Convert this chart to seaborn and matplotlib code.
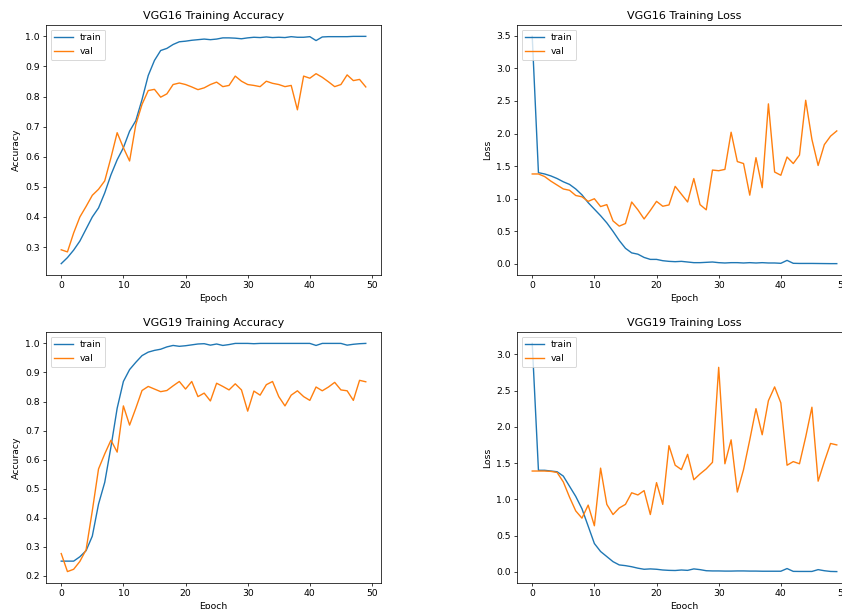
import matplotlib
matplotlib.use('Agg')
import matplotlib.pyplot as plt
import seaborn as sns

epochs = list(range(50))

vgg16_train_acc = [0.245, 0.265, 0.29, 0.32, 0.36, 0.40, 0.43, 0.48, 0.54, 0.59,
                   0.63, 0.685, 0.72, 0.79, 0.87, 0.92, 0.953, 0.96, 0.973, 0.982,
                   0.984, 0.987, 0.989, 0.991, 0.989, 0.991, 0.995, 0.995, 0.994, 0.992,
                   0.995, 0.997, 0.996, 0.998, 0.996, 0.997, 0.996, 0.999, 0.997, 0.997,
                   0.999, 0.986, 0.998, 0.999, 0.999, 0.999, 0.999, 1.0, 1.0, 1.0]
vgg16_val_acc = [0.291, 0.284, 0.347, 0.40, 0.435, 0.472, 0.492, 0.52, 0.597, 0.68,
                 0.63, 0.586, 0.707, 0.774, 0.82, 0.824, 0.798, 0.809, 0.84, 0.845,
                 0.84, 0.832, 0.823, 0.829, 0.84, 0.848, 0.833, 0.837, 0.868, 0.851,
                 0.84, 0.837, 0.833, 0.851, 0.844, 0.84, 0.833, 0.837, 0.756, 0.868,
                 0.861, 0.876, 0.864, 0.849, 0.833, 0.84, 0.872, 0.853, 0.857, 0.832]
vgg16_train_loss = [3.49, 1.40, 1.38, 1.35, 1.31, 1.26, 1.22, 1.15, 1.06, 0.94,
                    0.84, 0.74, 0.63, 0.50, 0.36, 0.24, 0.17, 0.15, 0.10, 0.07,
                    0.07, 0.05, 0.04, 0.035, 0.04, 0.03, 0.02, 0.02, 0.025, 0.03,
                    0.02, 0.015, 0.02, 0.02, 0.015, 0.02, 0.015, 0.02, 0.015, 0.015,
                    0.01, 0.055, 0.01, 0.008, 0.008, 0.008, 0.007, 0.006, 0.005, 0.005]
vgg16_val_loss = [1.38, 1.38, 1.34, 1.27, 1.21, 1.15, 1.13, 1.05, 1.03, 0.96,
                  1.0, 0.88, 0.91, 0.66, 0.58, 0.62, 0.95, 0.83, 0.69, 0.82,
                  0.96, 0.885, 0.905, 1.19, 1.07, 0.95, 1.31, 0.91, 0.83, 1.44,
                  1.43, 1.45, 2.02, 1.57, 1.54, 1.055, 1.63, 1.17, 2.455, 1.41,
                  1.36, 1.64, 1.54, 1.67, 2.51, 1.91, 1.51, 1.83, 1.96, 2.04]

vgg19_train_acc = [0.251, 0.251, 0.251, 0.266, 0.287, 0.337, 0.447, 0.522, 0.644, 0.777,
                   0.869, 0.91, 0.935, 0.958, 0.97, 0.976, 0.98, 0.988, 0.993, 0.99,
                   0.992, 0.995, 0.998, 0.999, 0.994, 0.998, 0.993, 0.996, 1.0, 1.0,
                   1.0, 0.999, 1.0, 1.0, 1.0, 1.0, 1.0, 1.0, 1.0, 1.0,
                   1.0, 0.993, 1.0, 1.0, 1.0, 1.0, 0.994, 0.997, 0.999, 1.0]
vgg19_val_acc = [0.277, 0.215, 0.223, 0.25, 0.29, 0.424, 0.568, 0.62, 0.667, 0.626,
                 0.785, 0.719, 0.777, 0.838, 0.852, 0.843, 0.834, 0.838, 0.854, 0.869,
                 0.843, 0.869, 0.817, 0.829, 0.802, 0.863, 0.852, 0.84, 0.861, 0.84,
                 0.767, 0.836, 0.822, 0.858, 0.869, 0.817, 0.785, 0.822, 0.837, 0.817,
                 0.804, 0.85, 0.837, 0.85, 0.866, 0.84, 0.837, 0.804, 0.873, 0.868]
vgg19_train_loss = [3.15, 1.40, 1.40, 1.39, 1.38, 1.32, 1.18, 1.04, 0.87, 0.63,
                    0.39, 0.28, 0.21, 0.14, 0.095, 0.085, 0.07, 0.05, 0.035, 0.04,
                    0.035, 0.025, 0.02, 0.018, 0.025, 0.02, 0.04, 0.03, 0.015, 0.012,
                    0.012, 0.01, 0.01, 0.012, 0.012, 0.01, 0.01, 0.008, 0.008, 0.008,
                    0.008, 0.045, 0.006, 0.005, 0.005, 0.005, 0.03, 0.015, 0.005, 0.003]
vgg19_val_loss = [1.39, 1.39, 1.39, 1.385, 1.37, 1.24, 1.03, 0.84, 0.74, 0.92,
                  0.635, 1.43, 0.93, 0.79, 0.88, 0.93, 1.09, 1.06, 1.12, 0.79,
                  1.23, 0.93, 1.74, 1.47, 1.41, 1.62, 1.27, 1.35, 1.42, 1.51,
                  2.82, 1.49, 1.82, 1.10, 1.41, 1.82, 2.25, 1.89, 2.36, 2.55,
                  2.33, 1.47, 1.52, 1.49, 1.86, 2.27, 1.25, 1.52, 1.77, 1.75]

# original was rendered smaller, scale matplotlib defaults down
S = 0.665
plt.rcParams.update({
    'font.size': 10 * S,
    'axes.titlesize': 12 * S,
    'axes.labelsize': 10 * S,
    'xtick.labelsize': 10 * S,
    'ytick.labelsize': 10 * S,
    'legend.fontsize': 10 * S,
    'lines.linewidth': 1.5 * S,
    'axes.linewidth': 0.8 * S,
    'xtick.major.size': 3.5 * S,
    'ytick.major.size': 3.5 * S,
    'xtick.major.width': 0.8 * S,
    'ytick.major.width': 0.8 * S,
    'xtick.major.pad': 3.5 * S,
    'ytick.major.pad': 3.5 * S,
    'axes.titlepad': 6 * S,
    'axes.labelpad': 4 * S,
    'patch.linewidth': 1.0 * S,
})

W, H = 842, 609
fig = plt.figure(figsize=(W / 100, H / 100), dpi=100)


def make_ax(left, top, width, height):
    return fig.add_axes([left / W, 1 - (top + height) / H, width / W, height / H])


panels = [
    (make_ax(46, 25, 335, 250), vgg16_train_acc, vgg16_val_acc, 'VGG16 Training Accuracy', 'Accuracy'),
    (make_ax(517, 25, 335, 250), vgg16_train_loss, vgg16_val_loss, 'VGG16 Training Loss', 'Loss'),
    (make_ax(46, 332, 335, 251), vgg19_train_acc, vgg19_val_acc, 'VGG19 Training Accuracy', 'Accuracy'),
    (make_ax(517, 332, 335, 251), vgg19_train_loss, vgg19_val_loss, 'VGG19 Training Loss', 'Loss'),
]

for ax, train, val, title, ylabel in panels:
    sns.lineplot(x=epochs, y=train, ax=ax, label='train', color='tab:blue')
    sns.lineplot(x=epochs, y=val, ax=ax, label='val', color='tab:orange')
    ax.set_title(title)
    ax.set_xlabel('Epoch')
    ax.set_ylabel(ylabel)
    ax.legend(loc='upper left')

fig.savefig('out.png', dpi=100)
